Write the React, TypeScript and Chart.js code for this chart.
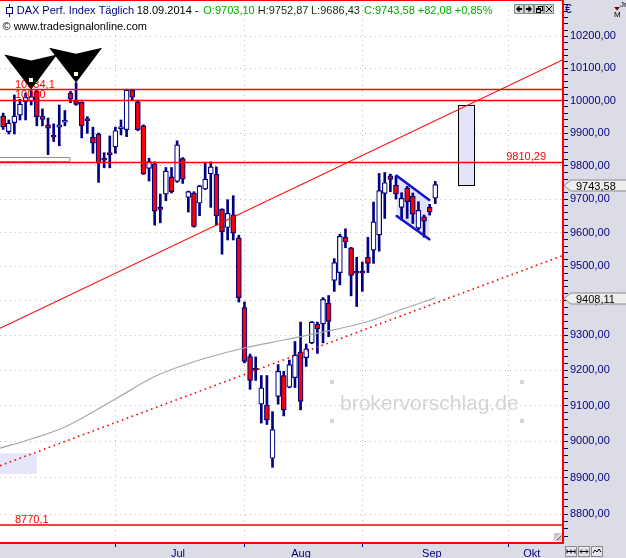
import React, { useEffect, useRef } from 'react';
import { Chart, registerables } from 'chart.js';

Chart.register(...registerables);

// ---------------- data ----------------
// trading days shown (03.06.2014 .. 18.09.2014); x index 0 = 01.07.2014
const dates = [
  '03.06','04.06','05.06','06.06','09.06','10.06','11.06','12.06','13.06','16.06','17.06','18.06','19.06','20.06','23.06','24.06','25.06','26.06','27.06','30.06',
  '01.07','02.07','03.07','04.07','07.07','08.07','09.07','10.07','11.07','14.07','15.07','16.07','17.07','18.07','21.07','22.07','23.07','24.07','25.07','28.07','29.07','30.07','31.07',
  '01.08','04.08','05.08','06.08','07.08','08.08','11.08','12.08','13.08','14.08','15.08','18.08','19.08','20.08','21.08','22.08','25.08','26.08','27.08','28.08','29.08',
  '01.09','02.09','03.09','04.09','05.09','08.09','09.09','10.09','11.09','12.09','15.09','16.09','17.09','18.09'
];
const FIRST_INDEX = -20;

const opens = [
  9952, 9904, 9932, 9955, 9996, 9998, 10028, 9952, 9925, 9890, 9918, 9933, 10022, 9998, 9994, 9941, 9887, 9896, 9822, 9836,
  9858, 9913, 9910, 10032, 9996, 9922, 9792, 9806, 9675, 9715, 9767, 9753, 9822, 9705, 9718, 9688, 9730, 9776, 9774, 9669, 9615, 9653, 9584,
  9380, 9239, 9203, 9104, 9101, 8953, 9126, 9185, 9152, 9179, 9252, 9236, 9278, 9332, 9333, 9392, 9459, 9482, 9586, 9555, 9485,
  9487, 9527, 9548, 9593, 9717, 9770, 9742, 9675, 9733, 9708, 9613, 9647, 9675, 9703.10
];
const highs = [
  9961, 9940, 10017, 10004, 10023, 10034.1, 10032, 9974, 9946, 9928, 9986, 9969, 10028, 10055, 9996, 9950, 9918, 9900, 9840, 9891,
  9918, 9940, 10035, 10035, 10001, 9925, 9823, 9812, 9715, 9795, 9795, 9876, 9825, 9724, 9722, 9741, 9811, 9812, 9797, 9671, 9698, 9710, 9592,
  9396, 9246, 9238, 9185, 9185, 9083, 9216, 9197, 9229, 9282, 9338, 9275, 9340, 9338, 9409, 9415, 9523, 9595, 9611, 9556, 9527,
  9513, 9586, 9691, 9777, 9780, 9775, 9770, 9719, 9738, 9718, 9692, 9652, 9684, 9752.87
];
const lows = [
  9911, 9897, 9897, 9940, 9940, 9986, 9922, 9922, 9834, 9874, 9861, 9922, 9993, 9985, 9885, 9899, 9838, 9750, 9794, 9794,
  9838, 9894, 9889, 10001, 9907, 9774, 9754, 9622, 9629, 9695, 9718, 9750, 9747, 9661, 9616, 9650, 9728, 9675, 9622, 9536, 9578, 9578, 9396,
  9221, 9146, 9171, 9051, 9047, 8928, 9104, 9071, 9150, 9151, 9088, 9211, 9276, 9248, 9278, 9296, 9427, 9446, 9555, 9414, 9383,
  9427, 9482, 9509, 9545, 9642, 9722, 9700, 9637, 9642, 9627, 9608, 9586, 9652, 9686.43
];
const closes = [
  9919, 9930, 9952, 9989, 10010, 10012, 9950, 9942, 9915, 9887, 9925, 9937, 10004, 9988, 9922, 9938, 9869, 9808, 9817, 9834,
  9907, 9916, 10032, 10010, 9910, 9776, 9813, 9664, 9669, 9784, 9722, 9864, 9760, 9722, 9618, 9739, 9760, 9797, 9650, 9603, 9657, 9598, 9409,
  9225, 9171, 9200, 9150, 9060, 9033, 9197, 9088, 9216, 9243, 9112, 9261, 9338, 9318, 9404, 9340, 9511, 9589, 9572, 9474, 9480,
  9480, 9509, 9632, 9725, 9749, 9759, 9715, 9702, 9692, 9655, 9666, 9634, 9661.5, 9743.58
];

// moving average (read at a few positions)
const maIndex = [-21, -15, -9, 0, 7, 15, 23, 30, 39, 45, 51, 57];
const maValues = [8979, 9006.5, 9040, 9118.6, 9182.2, 9229.1, 9263.4, 9286.4, 9316.0, 9339.6, 9374.3, 9408.11];

// trend lines
const trendSolidX = [-20.56, 79.76];
const trendSolidY = [9320.0, 10126.9];
const trendDottedX = [-20.56, 79.76];
const trendDottedY = [8932.5, 9532.2];

// horizontal levels
const levelValues = [10034.1, 10000, 9810.29, 8770.1];
const levelLabels = ['10034,1', '10000', '9810,29', '8770,1'];

// signal markers (on highs)
const markerIdx = [-15, -7];

// flag channel
const flagX = [50.12, 55.93];
const flagTop = [9770.2, 9697.1];
const flagBottom = [9649.2, 9580.0];

// boxes
const targetBoxX = [61.1, 63.95];
const targetBoxY = [9743.58, 9986];
const leftBoxX = [-21, -14.0];
const leftBoxY = [8909.6, 8966.8];
const barBoxX = [-21, -8.1];
const barBoxY = [9813.5, 9826];

// axes
const xMin = -20.56;
const xMax = 79.76;
const yMin = 8724.3;
const yMax = 10315.5;
const monthTickIdx = [0, 23, 44, 70.1];
const monthLabelIdx = [11.15, 33.07, 56.4, 74.2];
const monthLabels = ['Jul', 'Aug', 'Sep', 'Okt'];
const yLabelValues = [8800, 8900, 9000, 9100, 9200, 9300, 9400, 9500, 9600, 9700, 9800, 9900, 10000, 10100, 10200];

const lastClose = 9743.58;
const lastMA = 9408.11;

const FONT = "'Liberation Sans', Arial, sans-serif";
const NAVY = '#000080';

const fmt2 = (v: number) => v.toFixed(2).replace('.', ',');

const decorPlugin = {
  id: 'decor',
  beforeDraw(chart: any) {
    const { ctx, width, height, chartArea: a } = chart;
    ctx.save();
    ctx.fillStyle = '#dcdce6';
    ctx.fillRect(0, 0, width, height);
    ctx.fillStyle = '#ffffff';
    ctx.fillRect(a.left, 0, a.right - a.left, a.bottom);
    ctx.restore();
  },
  beforeDatasetsDraw(chart: any) {
    const { ctx, chartArea: a } = chart;
    const xs = chart.scales.x, ys = chart.scales.y;
    const X = (v: number) => xs.getPixelForValue(v);
    const Y = (v: number) => ys.getPixelForValue(v);
    ctx.save();
    ctx.beginPath();
    ctx.rect(a.left, a.top, a.right - a.left, a.bottom - a.top);
    ctx.clip();
    // watermark
    ctx.fillStyle = '#d4d4d4';
    ctx.font = `21px ${FONT}`;
    ctx.textBaseline = 'alphabetic';
    ctx.fillText('brokervorschlag.de', 340, 410);
    [[330, 380], [330, 419], [520, 380], [520, 419]].forEach(([x, y]) => ctx.fillRect(x, y, 4, 4));
    // left box
    ctx.fillStyle = '#e6e6fa';
    ctx.fillRect(X(leftBoxX[0]), Y(leftBoxY[1]), X(leftBoxX[1]) - X(leftBoxX[0]), Y(leftBoxY[0]) - Y(leftBoxY[1]));
    // small bar box
    ctx.fillStyle = '#ffffff';
    ctx.strokeStyle = '#909090';
    ctx.lineWidth = 1;
    const bx0 = X(barBoxX[0]), bx1 = X(barBoxX[1]), by0 = Y(barBoxY[1]), by1 = Y(barBoxY[0]);
    ctx.fillRect(bx0, by0, bx1 - bx0, by1 - by0);
    ctx.strokeRect(bx0, Math.round(by0) + 0.5, bx1 - bx0, Math.round(by1 - by0));
    // target box
    const tx0 = Math.round(X(targetBoxX[0])) + 0.5, tx1 = Math.round(X(targetBoxX[1])) + 0.5;
    const ty0 = Math.round(Y(targetBoxY[1])) + 0.5, ty1 = Math.round(Y(targetBoxY[0])) + 0.5;
    ctx.fillStyle = '#e4e4f8';
    ctx.fillRect(tx0, ty0, tx1 - tx0, ty1 - ty0);
    ctx.strokeStyle = '#000000';
    ctx.strokeRect(tx0, ty0, tx1 - tx0, ty1 - ty0);
    // flag fill
    ctx.fillStyle = '#e2e2f8';
    ctx.beginPath();
    ctx.moveTo(X(flagX[0]), Y(flagTop[0]));
    ctx.lineTo(X(flagX[1]), Y(flagTop[1]));
    ctx.lineTo(X(flagX[1]), Y(flagBottom[1]));
    ctx.lineTo(X(flagX[0]), Y(flagBottom[0]));
    ctx.closePath();
    ctx.fill();
    ctx.restore();
  },
  afterDatasetsDraw(chart: any) {
    const { ctx, chartArea: a } = chart;
    const xs = chart.scales.x, ys = chart.scales.y;
    const X = (v: number) => xs.getPixelForValue(v);
    const Y = (v: number) => ys.getPixelForValue(v);
    ctx.save();
    ctx.beginPath();
    ctx.rect(a.left, a.top, a.right - a.left, a.bottom - a.top);
    ctx.clip();
    // flag lines
    ctx.strokeStyle = '#1414c8';
    ctx.lineWidth = 2.6;
    ctx.lineCap = 'round';
    ctx.beginPath();
    ctx.moveTo(X(flagX[0]), Y(flagTop[0]));
    ctx.lineTo(X(flagX[1]), Y(flagTop[1]));
    ctx.moveTo(X(flagX[0]), Y(flagBottom[0]));
    ctx.lineTo(X(flagX[1]), Y(flagBottom[1]));
    ctx.stroke();
    // level labels
    ctx.fillStyle = '#ff0000';
    ctx.font = `11px ${FONT}`;
    ctx.textBaseline = 'alphabetic';
    levelValues.forEach((v, k) => {
      const y = Y(v) - 2;
      if (k === 2) {
        ctx.textAlign = 'right';
        ctx.fillText(levelLabels[k], 546, y);
      } else {
        ctx.textAlign = 'left';
        ctx.fillText(levelLabels[k], 15, k === 0 ? y + 0.5 : y);
      }
    });
    // markers
    markerIdx.forEach((mi) => {
      const k = mi - FIRST_INDEX;
      const cx = X(mi);
      const ty = Y(highs[k]);
      ctx.fillStyle = '#000000';
      ctx.beginPath();
      ctx.moveTo(cx - 27, ty - 35);
      ctx.lineTo(cx, ty - 29);
      ctx.lineTo(cx + 26, ty - 35);
      ctx.lineTo(cx, ty);
      ctx.closePath();
      ctx.fill();
      ctx.fillStyle = '#ffffe0';
      ctx.fillRect(Math.round(cx) - 2, Math.round(ty) - 11, 4, 4);
    });
    ctx.restore();
  },
  afterDraw(chart: any) {
    const { ctx, chartArea: a } = chart;
    const ys = chart.scales.y;
    const Y = (v: number) => ys.getPixelForValue(v);
    ctx.save();
    // header
    ctx.font = `11px ${FONT}`;
    ctx.textBaseline = 'alphabetic';
    ctx.textAlign = 'left';
    // icon
    ctx.strokeStyle = NAVY;
    ctx.lineWidth = 1;
    ctx.beginPath();
    ctx.moveTo(9.5, 4); ctx.lineTo(9.5, 17);
    ctx.stroke();
    ctx.fillStyle = '#ffffff';
    ctx.fillRect(6.5, 7.5, 6, 6);
    ctx.strokeRect(6.5, 7.5, 6, 6);
    const seg: [string, string, number][] = [
      ['DAX Perf. Index Täglich', NAVY, 16.7],
      ['18.09.2014 -', '#000000', 136.7],
      ['O:9703,10', '#00aa00', 203.3],
      ['H:9752,87', '#103010', 257.7],
      ['L:9686,43', '#103010', 311],
      ['C:9743,58 +82,08 +0,85%', '#00aa00', 364],
    ];
    seg.forEach(([t, c, x]) => { ctx.fillStyle = c; ctx.fillText(t, x, 14); });
    ctx.fillStyle = '#000000';
    ctx.fillText('© www.tradesignalonline.com', 2.5, 30);

    // top right buttons
    const btn = (x: number, y: number, w: number, h: number, bg: string) => {
      ctx.fillStyle = bg;
      ctx.fillRect(x, y, w, h);
      ctx.strokeStyle = '#8c8c8c';
      ctx.lineWidth = 1;
      ctx.strokeRect(x + 0.5, y + 0.5, w - 1, h - 1);
    };
    btn(514, 4, 10, 10, '#d4d4d4');
    btn(524, 4, 10, 10, '#d4d4d4');
    btn(534, 4, 10, 10, '#d4d4d4');
    btn(544, 4, 10, 10, '#d4d4d4');
    ctx.fillStyle = '#000000';
    ctx.beginPath(); ctx.moveTo(516, 9); ctx.lineTo(519.5, 5.5); ctx.lineTo(519.5, 12.5); ctx.closePath(); ctx.fill();
    ctx.fillRect(519, 8, 3, 2);
    ctx.beginPath(); ctx.moveTo(532, 9); ctx.lineTo(528.5, 5.5); ctx.lineTo(528.5, 12.5); ctx.closePath(); ctx.fill();
    ctx.fillRect(526, 8, 3, 2);
    ctx.strokeStyle = '#000000';
    ctx.strokeRect(538.5, 6.5, 4, 4);
    ctx.fillRect(536, 8, 5, 5);
    ctx.fillStyle = '#d4d4d4'; ctx.fillRect(537, 10, 3, 2);
    ctx.beginPath(); ctx.moveTo(546, 6); ctx.lineTo(552, 12); ctx.moveTo(552, 6); ctx.lineTo(546, 12); ctx.stroke();

    // euro + icon
    ctx.fillStyle = NAVY;
    ctx.font = `12px ${FONT}`;
    ctx.fillText('€', 565, 13);
    ctx.fillStyle = '#000000';
    ctx.font = `8px ${FONT}`;
    ctx.fillText('Jr', 620, 7);
    ctx.fillText('M', 614, 17);
    ctx.fillStyle = '#800000';
    ctx.beginPath(); ctx.moveTo(614, 7); ctx.lineTo(620, 7); ctx.lineTo(617, 10.5); ctx.closePath(); ctx.fill();

    // price boxes on axis
    const priceBox = (v: number, label: string) => {
      const y = Math.round(Y(v)) + 0.5;
      ctx.beginPath();
      ctx.moveTo(564, y);
      ctx.lineTo(571, y - 5.5);
      ctx.lineTo(627, y - 5.5);
      ctx.lineTo(627, y + 5.5);
      ctx.lineTo(571, y + 5.5);
      ctx.closePath();
      ctx.fillStyle = '#eeeeee';
      ctx.fill();
      ctx.strokeStyle = '#8a8a8a';
      ctx.lineWidth = 1;
      ctx.stroke();
      ctx.fillStyle = '#000000';
      ctx.font = `11px ${FONT}`;
      ctx.fillText(label, 576, y + 4);
    };
    priceBox(lastClose, fmt2(lastClose));
    priceBox(lastMA, fmt2(lastMA));

    // frame
    ctx.fillStyle = '#ff0000';
    ctx.fillRect(0, 0, a.right + 1, 1);
    ctx.fillRect(a.right - 1, 0, 2, a.bottom + 2);
    ctx.fillRect(0, a.bottom, a.right + 1, 2);

    // resize corner
    ctx.fillStyle = '#c8c8c8';
    ctx.fillRect(554, 533, 8, 8);
    ctx.strokeStyle = '#ffffff';
    ctx.beginPath(); ctx.moveTo(555, 540); ctx.lineTo(561, 534); ctx.stroke();
    ctx.strokeStyle = '#606060';
    ctx.beginPath(); ctx.moveTo(557, 540); ctx.lineTo(561, 536); ctx.stroke();

    // bottom buttons
    btn(565, 546, 12, 11, '#e4e4ea');
    btn(578, 546, 12, 11, '#e4e4ea');
    btn(591, 546, 12, 11, '#e4e4ea');
    ctx.strokeStyle = '#000000';
    ctx.lineWidth = 1;
    ctx.beginPath();
    ctx.moveTo(567, 551.5); ctx.lineTo(575, 551.5);
    ctx.moveTo(567, 549.5); ctx.lineTo(567, 553.5);
    ctx.moveTo(575, 549.5); ctx.lineTo(575, 553.5);
    ctx.moveTo(571, 549.5); ctx.lineTo(571, 553.5);
    ctx.moveTo(580, 551.5); ctx.lineTo(588, 551.5);
    ctx.moveTo(580, 551.5); ctx.lineTo(582, 549.5); ctx.moveTo(580, 551.5); ctx.lineTo(582, 553.5);
    ctx.moveTo(588, 551.5); ctx.lineTo(586, 549.5); ctx.moveTo(588, 551.5); ctx.lineTo(586, 553.5);
    ctx.moveTo(593, 553); ctx.lineTo(595, 550); ctx.lineTo(597, 552); ctx.lineTo(599, 549); ctx.lineTo(601, 552);
    ctx.stroke();
    ctx.restore();
  },
};

export default function App() {
  const ref = useRef<HTMLCanvasElement>(null);
  useEffect(() => {
    const canvas = ref.current;
    if (!canvas) return;
    Chart.defaults.font.family = FONT;
    Chart.defaults.font.size = 11;

    const idx = dates.map((_, k) => k + FIRST_INDEX);
    const wickData = idx.map((x, k) => ({ x, y: [lows[k], highs[k]] }));
    const bodyData = idx.map((x, k) => ({ x, y: [opens[k], closes[k]] }));
    const bodyColors = idx.map((_, k) => (closes[k] < opens[k] ? '#ff0000' : '#ffffff'));

    const xTicks = [...monthTickIdx, ...monthLabelIdx].sort((p, q) => p - q);
    const yTicks: number[] = [];
    yLabelValues.forEach((v) => {
      [-40, -20, 0, 20, 40].forEach((d) => {
        const t = v + d;
        if (t > yMin && t < yMax && !yTicks.includes(t)) yTicks.push(t);
      });
    });
    [10260, 10280, 10300].forEach((t) => { if (t < yMax && !yTicks.includes(t)) yTicks.push(t); });
    [8760, 8740].forEach((t) => { if (t > yMin && !yTicks.includes(t)) yTicks.push(t); });
    yTicks.sort((p, q) => p - q);

    const lineCommon = { type: 'line' as const, pointRadius: 0, fill: false, order: 0 };
    const datasets: any[] = [
      {
        type: 'bar', data: wickData, backgroundColor: NAVY, borderWidth: 0,
        barThickness: 2, grouped: false, order: 3,
      },
      {
        type: 'bar', data: bodyData, backgroundColor: bodyColors, borderColor: NAVY, borderWidth: 1.2,
        borderSkipped: false, barThickness: 5, grouped: false, order: 2, minBarLength: 2,
      },
      {
        ...lineCommon, data: maIndex.map((x, k) => ({ x, y: maValues[k] })), borderColor: '#a8a8a8', borderWidth: 1.2,
        cubicInterpolationMode: 'monotone', order: 1,
      },
      {
        ...lineCommon, data: trendSolidX.map((x, k) => ({ x, y: trendSolidY[k] })), borderColor: '#ff0000', borderWidth: 1.2,
      },
      {
        ...lineCommon, data: trendDottedX.map((x, k) => ({ x, y: trendDottedY[k] })), borderColor: '#ff0000', borderWidth: 1.6,
        borderDash: [1.6, 3.6],
      },
      ...levelValues.map((v) => ({
        ...lineCommon, data: [{ x: xMin - 1, y: v }, { x: xMax + 1, y: v }], borderColor: '#ff0000', borderWidth: 1.5,
      })),
    ];

    const chart = new Chart(canvas, {
      type: 'bar',
      data: { datasets },
      plugins: [decorPlugin],
      options: {
        responsive: false,
        devicePixelRatio: 1,
        animation: false,
        events: [],
        layout: { padding: { left: 0, right: 0, top: 0, bottom: 0 } },
        plugins: { legend: { display: false }, tooltip: { enabled: false } },
        scales: {
          x: {
            type: 'linear',
            min: xMin,
            max: xMax,
            offset: false,
            afterBuildTicks: (s: any) => { s.ticks = xTicks.map((value) => ({ value })); },
            afterFit: (s: any) => {
              s.height = 16;
              s.paddingLeft = 0; s.paddingRight = 0; s.paddingTop = 0; s.paddingBottom = 0;
            },
            ticks: {
              autoSkip: false,
              maxRotation: 0,
              minRotation: 0,
              padding: 0,
              color: NAVY,
              font: { family: FONT, size: 11 },
              callback: (_v: any, i: number) => {
                const li = monthLabelIdx.indexOf(xTicks[i]);
                return li >= 0 ? monthLabels[li] : '';
              },
            },
            grid: {
              offset: false,
              color: (c: any) => (monthTickIdx.includes(xTicks[c.index]) ? '#bcbcbc' : 'rgba(0,0,0,0)'),
              tickColor: (c: any) => (monthTickIdx.includes(xTicks[c.index]) ? NAVY : 'rgba(0,0,0,0)'),
              tickLength: 5,
              lineWidth: 1,
            },
            border: { display: false, dash: [1, 4] },
          },
          y: {
            type: 'logarithmic',
            position: 'right',
            min: yMin,
            max: yMax,
            afterBuildTicks: (s: any) => { s.ticks = yTicks.map((value) => ({ value })); },
            afterFit: (s: any) => {
              s.width = 63;
              s.paddingLeft = 0; s.paddingRight = 0; s.paddingTop = 0; s.paddingBottom = 0;
            },
            ticks: {
              autoSkip: false,
              padding: 2,
              color: NAVY,
              font: { family: FONT, size: 11 },
              callback: (v: any) => (yLabelValues.includes(Number(v)) ? fmt2(Number(v)) : ''),
            },
            grid: {
              color: (c: any) => (c.tick && yLabelValues.includes(c.tick.value) ? '#bcbcbc' : 'rgba(0,0,0,0)'),
              tickColor: NAVY,
              tickLength: 5,
              lineWidth: 1,
            },
            border: { display: false, dash: [1, 4] },
          },
        },
      } as any,
    });
    return () => chart.destroy();
  }, []);
  return (
    <div style={{ position: 'absolute', left: 0, top: 0, width: 626, height: 558 }}>
      <canvas ref={ref} width={626} height={558} style={{ display: 'block', width: 626, height: 558 }} />
    </div>
  );
}
